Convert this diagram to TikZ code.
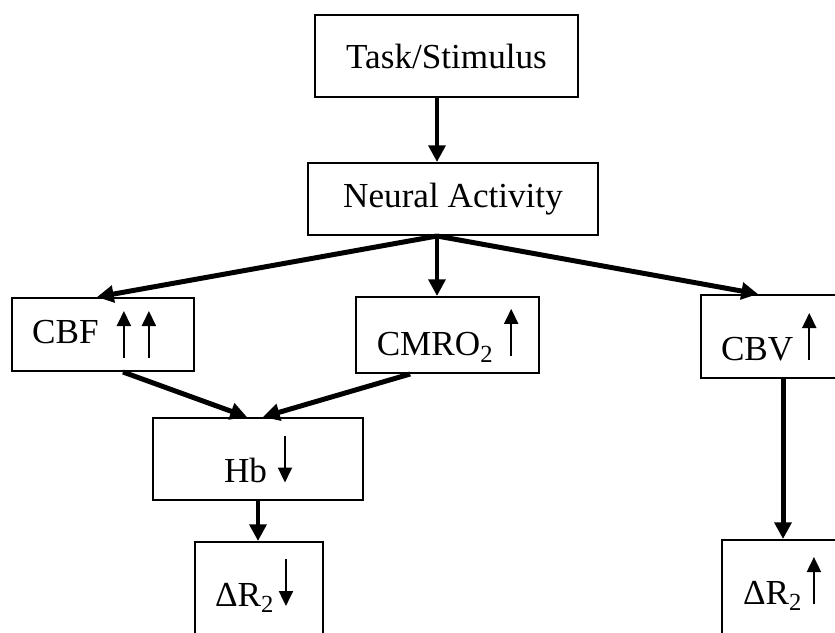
\documentclass[tikz,border=0pt]{standalone}
\usepackage{fontspec}
\setmainfont{Liberation Serif}
\usetikzlibrary{arrows.meta}

\newcommand{\uparr}{\tikz[baseline=0pt]\draw[line width=1.7pt,-{Triangle[length=0.45cm,width=0.42cm]}] (0cm,0cm) -- (0cm,1.41cm);}
\newcommand{\downarr}{\tikz[baseline=0pt]\draw[line width=1.7pt,-{Triangle[length=0.45cm,width=0.42cm]}] (0cm,1.41cm) -- (0cm,0cm);}

\begin{document}
\begin{tikzpicture}[->,>={Triangle[length=0.5cm,width=0.5cm]},x=0.03cm,y=-0.03cm,
                    line width=4.25pt]
  \tikzstyle{box}=[draw=black,line width=1.7pt,inner sep=0pt,
                   font=\fontsize{30pt}{36pt}\selectfont]
  \useasboundingbox (0,0) rectangle (835,632);
  \clip (0,0) rectangle (835,632);

  \node[box,minimum width=7.89cm,minimum height=2.46cm] (task)   at (446.5,56) {Task/Stimulus};
  \node[box,minimum width=8.7cm,minimum height=2.16cm]  (neural) at (453,199)  {Neural Activity};
  \node[box,minimum width=5.46cm,minimum height=2.19cm] (cbf)    at (103,334.5)
       {\raisebox{0.45cm}{CBF}\hspace{0.55cm}\uparr\hspace{0.33cm}\uparr\hspace{0.54cm}\null};
  \node[box,minimum width=5.49cm,minimum height=2.28cm] (cmro)   at (447.5,335)
       {CMRO\textsubscript{2}\hspace{0.33cm}\uparr};
  \node[box,minimum height=2.49cm,anchor=west]          (cbv)    at (700,336.5)
       {\hspace{0.6cm}CBV\hspace{0.27cm}\uparr\hspace{2cm}\null};
  \node[box,minimum width=6.3cm,minimum height=2.46cm]  (hb)     at (258,459)
       {Hb\hspace{0.33cm}\downarr};
  \node[box,minimum width=3.84cm,minimum height=3.6cm,text depth=1.2cm] (drl) at (259,602)
       {ΔR\textsubscript{2}\hspace{0.15cm}\downarr\hspace{0.3cm}\null};
  \node[box,minimum height=3.6cm,text depth=1.2cm,anchor=west] (drr) at (721,600)
       {\hspace{0.63cm}ΔR\textsubscript{2}\hspace{0.15cm}\uparr\hspace{2cm}\null};

  \coordinate (split) at ([xshift=-0.48cm]neural.south);
  \coordinate (down)  at ([xshift=2.49cm]cbv.south west);

  \path (task.south -| split) edge (neural.north -| split)
        (split) edge ([xshift=-0.18cm]cbf.north)
                edge (cmro.north -| split)
                edge ([xshift=1.74cm]cbv.north west)
        ([xshift=0.6cm]cbf.south)    edge ([xshift=-0.33cm]hb.north)
        ([xshift=-1.12cm]cmro.south) edge ([xshift=0.15cm]hb.north)
        (hb.south) edge (hb.south |- drl.north)
        (down)     edge (down |- drr.north);
\end{tikzpicture}
\end{document}
